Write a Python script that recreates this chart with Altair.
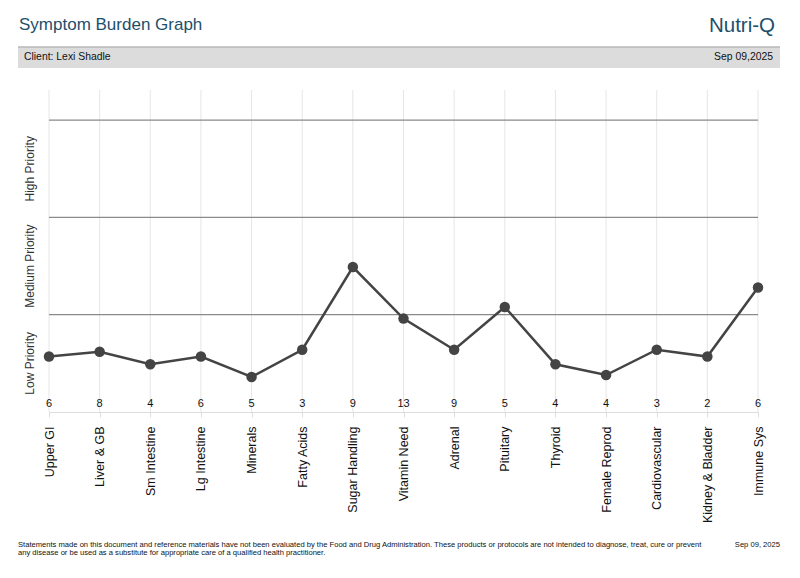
import altair as alt
import pandas as pd

categories = ["Upper GI", "Liver & GB", "Sm Intestine", "Lg Intestine", "Minerals",
              "Fatty Acids", "Sugar Handling", "Vitamin Need", "Adrenal", "Pituitary",
              "Thyroid", "Female Reprod", "Cardiovascular", "Kidney & Bladder", "Immune Sys"]
scores = [6, 8, 4, 6, 5, 3, 9, 13, 9, 5, 4, 4, 3, 2, 6]
levels = [0.57, 0.62, 0.49, 0.57, 0.36, 0.64, 1.49, 0.96, 0.64, 1.08, 0.49, 0.38, 0.64, 0.57, 1.28]

band_labels = ["Low Priority", "Medium Priority", "High Priority"]
band_centers = [0.5, 1.5, 2.5]
band_lines = [1, 2, 3]

title = "Symptom Burden Graph"
brand = "Nutri-Q"
client = "Client: Lexi Shadle"
date_top = "Sep 09,2025"
footer1 = ("Statements made on this document and reference materials have not been evaluated by the Food and Drug "
           "Administration. These products or protocols are not intended to diagnose, treat, cure or prevent")
footer2 = "any disease or be used as a substitute for appropriate care of a qualified health practitioner."
date_foot = "Sep 09, 2025"

FONT = "Liberation Sans"
W, H = 709, 322
YMAX = 3.31

df = pd.DataFrame({"cat": categories, "score": scores, "level": levels})
bands = pd.DataFrame({"label": band_labels, "c": band_centers})
lines = pd.DataFrame({"v": band_lines})
one = pd.DataFrame({"a": [0]})

xs = alt.Scale(type="point", domain=categories, padding=0)
ys = alt.Scale(domain=[0, YMAX], nice=False, zero=True)

base = alt.Chart(df)

grid = base.mark_rule(color="#e6e6e6", strokeWidth=1).encode(
    x=alt.X("cat:N", scale=xs, sort=categories,
            axis=alt.Axis(title=None, labelAngle=270, labelFontSize=12.5, labelColor="#111",
                          labelFont=FONT, domainColor="#dddddd", tickColor="#dddddd",
                          tickSize=5, labelPadding=9, grid=False)),
    y=alt.value(0), y2=alt.value(H))

hlines = alt.Chart(lines).mark_rule(color="#8a8a8a", strokeWidth=1.2).encode(
    y=alt.Y("v:Q", scale=ys, axis=None), x=alt.value(0), x2=alt.value(W))

line = base.mark_line(color="#444444", strokeWidth=2.5).encode(
    x=alt.X("cat:N", scale=xs, sort=categories),
    y=alt.Y("level:Q", scale=ys, axis=None))

pts = base.mark_circle(color="#444444", opacity=1, size=110).encode(
    x=alt.X("cat:N", scale=xs, sort=categories),
    y=alt.Y("level:Q", scale=ys, axis=None))

nums = base.mark_text(font=FONT, fontSize=11, color="#111", baseline="middle").encode(
    x=alt.X("cat:N", scale=xs, sort=categories),
    y=alt.value(H - 8), text="score:Q")

bandtxt = alt.Chart(bands).mark_text(font=FONT, fontSize=12, color="#333", angle=270,
                                     align="center", baseline="middle").encode(
    x=alt.value(-19), y=alt.Y("c:Q", scale=ys, axis=None), text="label:N")

o = alt.Chart(one)
bar = o.mark_rect(color="#dcdcdc").encode(
    x=alt.value(-31), x2=alt.value(731), y=alt.value(-43), y2=alt.value(-22))
bartop = o.mark_rule(color="#b8b8b8", strokeWidth=1.5).encode(
    x=alt.value(-31), x2=alt.value(731), y=alt.value(-43))
t_title = o.mark_text(text=title, font=FONT, fontSize=17, color="#1d4f6b", align="left",
                      baseline="alphabetic").encode(x=alt.value(-30), y=alt.value(-60))
t_brand = o.mark_text(text=brand, font=FONT, fontSize=20.5, color="#1d4f6b", align="right",
                      baseline="alphabetic").encode(x=alt.value(726), y=alt.value(-58))
t_client = o.mark_text(text=client, font=FONT, fontSize=10.4, color="#111", align="left",
                       baseline="middle").encode(x=alt.value(-25), y=alt.value(-33))
t_date = o.mark_text(text=date_top, font=FONT, fontSize=10.4, color="#111", align="right",
                     baseline="middle").encode(x=alt.value(724), y=alt.value(-33))
f1 = o.mark_text(text=footer1, font=FONT, fontSize=7.6, color="#111", align="left",
                 baseline="middle").encode(x=alt.value(-31), y=alt.value(455))
f2 = o.mark_text(text=footer2, font=FONT, fontSize=7.6, color="#111", align="left",
                 baseline="middle").encode(x=alt.value(-31), y=alt.value(463))
f3 = o.mark_text(text=date_foot, font=FONT, fontSize=7.6, color="#111", align="right",
                 baseline="middle").encode(x=alt.value(731), y=alt.value(455))

chart = alt.layer(grid, hlines, line, pts, nums, bandtxt, bar, bartop, t_title, t_brand,
                  t_client, t_date, f1, f2, f3).properties(
    width=W, height=H,
    autosize=alt.AutoSizeParams(type="none"),
    padding={"left": 41, "top": 82, "right": 34, "bottom": 158},
    background="white",
).configure_view(stroke=None)

chart.save("out.html", embed_options={"renderer": "svg", "actions": False})
